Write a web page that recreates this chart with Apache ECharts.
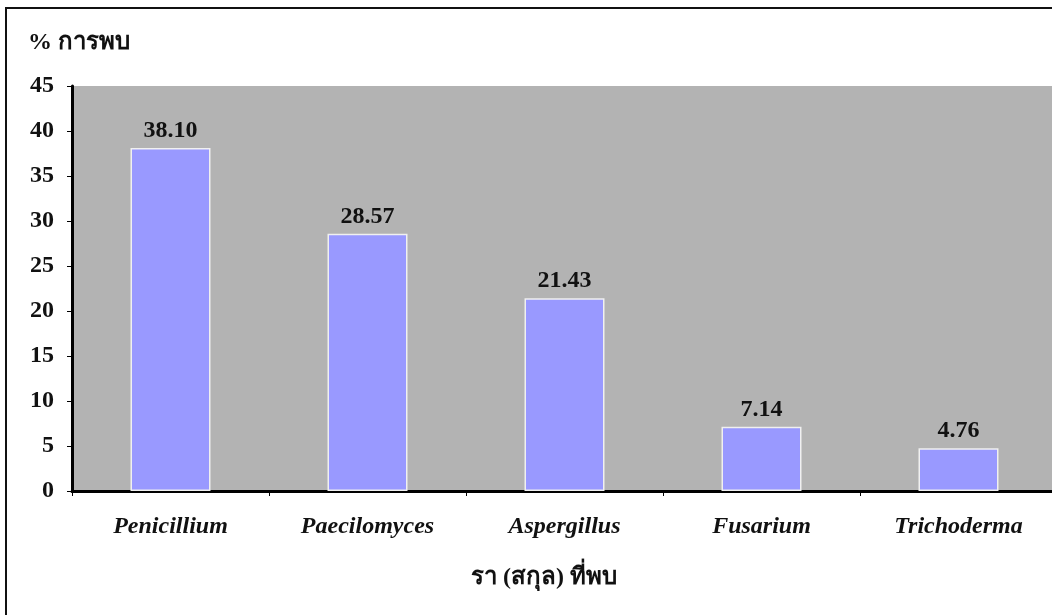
<!DOCTYPE html>
<html>
<head>
<meta charset="utf-8">
<script src="https://cdn.jsdelivr.net/npm/echarts@6/dist/echarts.min.js"></script>
<style>
  html, body { margin: 0; padding: 0; background: #fff; }
  #chart { width: 1052px; height: 615px; }
</style>
</head>
<body>
<div id="chart"></div>
<script>
// ราที่พบ (สกุล)
const genera = ["Penicillium", "Paecilomyces", "Aspergillus", "Fusarium", "Trichoderma"];
const percentFound = [38.10, 28.57, 21.43, 7.14, 4.76];
const yTitle = "% การพบ";
const xTitle = "รา (สกุล) ที่พบ";

const serif = "'Liberation Serif', 'Times New Roman', serif";

const myChart = echarts.init(document.getElementById("chart"));

const option = {
  animation: false,
  backgroundColor: "#fff",
  graphic: [
    // frame: only top and left edges are visible in the picture
    {
      type: "polyline",
      shape: { points: [[6, 615], [6, 8], [1052, 8]] },
      style: { fill: "none", stroke: "#111", lineWidth: 2 },
      z: 100,
    },
    {
      type: "text",
      left: 28,
      top: 31,
      style: {
        text: yTitle,
        font: "bold 24px " + serif,
        fill: "#111",
      },
    },
    {
      type: "text",
      x: 544,
      y: 578,
      style: {
        text: xTitle,
        font: "bold 24px " + serif,
        fill: "#111",
        align: "center",
        verticalAlign: "middle",
      },
    },
  ],
  grid: {
    left: 72,
    width: 985,
    top: 86,
    bottom: 124,
    outerBoundsMode: "none",
    containLabel: false,
    show: true,
    backgroundColor: "#b3b3b3",
    borderWidth: 0,
  },
  xAxis: {
    type: "category",
    data: genera,
    axisLine: { lineStyle: { color: "#000", width: 3 } },
    axisTick: { show: true, length: 5, lineStyle: { color: "#000", width: 1 } },
    axisLabel: {
      color: "#111",
      fontFamily: serif,
      fontSize: 24,
      fontWeight: "bold",
      fontStyle: "italic",
      margin: 24,
    },
  },
  yAxis: {
    type: "value",
    min: 0,
    max: 45,
    interval: 5,
    axisLine: { show: true, lineStyle: { color: "#000", width: 3 } },
    axisTick: { show: true, length: 5, lineStyle: { color: "#000", width: 1 } },
    splitLine: { show: false },
    axisLabel: {
      color: "#111",
      fontFamily: serif,
      fontSize: 24,
      fontWeight: "bold",
      margin: 18,
    },
  },
  series: [
    {
      type: "bar",
      data: percentFound,
      barWidth: 80,
      itemStyle: {
        color: "#9999ff",
        borderColor: "#f0f0f0",
        borderWidth: 1.5,
      },
      label: {
        show: true,
        position: "top",
        distance: 5,
        color: "#111",
        fontFamily: serif,
        fontSize: 24,
        fontWeight: "bold",
        formatter: (p) => p.value.toFixed(2),
      },
    },
  ],
};

myChart.setOption(option);
</script>
</body>
</html>
